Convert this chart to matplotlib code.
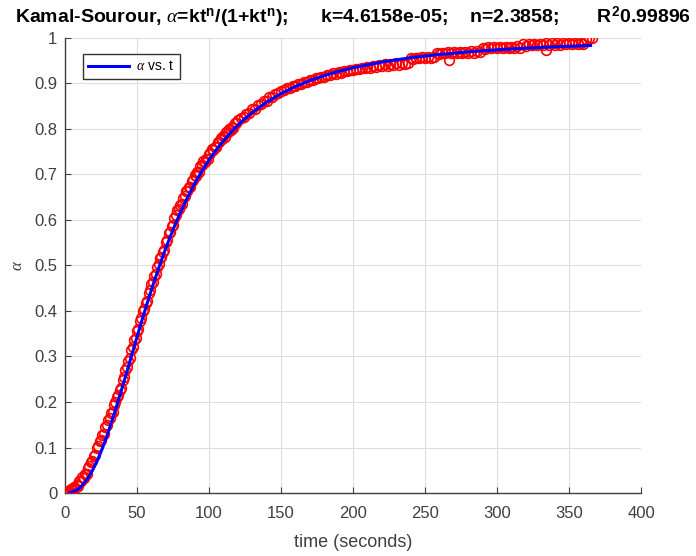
import matplotlib
matplotlib.use('Agg')
import matplotlib.pyplot as plt

plt.rcParams['font.family'] = ['Liberation Sans', 'DejaVu Sans']
plt.rcParams['mathtext.fontset'] = 'custom'
plt.rcParams['mathtext.rm'] = 'Liberation Sans:bold'
plt.rcParams['mathtext.bf'] = 'Liberation Sans:bold'
plt.rcParams['mathtext.it'] = 'Liberation Serif:italic'

# measured conversion (red circles): 1 s steps up to 120 s, 2 s steps after
t_data = list(range(0, 121)) + list(range(122, 367, 2)) + [267, 334]
a_data = [
    0.000, 0.000, 0.004, 0.000, 0.009, 0.008, 0.014, 0.011, 0.017, 0.015,
    0.026, 0.027, 0.035, 0.034, 0.042, 0.042, 0.056, 0.059, 0.069, 0.070,
    0.081, 0.083, 0.098, 0.103, 0.115, 0.117, 0.127, 0.130, 0.145, 0.150,
    0.161, 0.164, 0.175, 0.178, 0.194, 0.200, 0.212, 0.215, 0.227, 0.231,
    0.248, 0.256, 0.271, 0.276, 0.290, 0.296, 0.314, 0.321, 0.336, 0.341,
    0.355, 0.360, 0.378, 0.385, 0.400, 0.404, 0.417, 0.423, 0.439, 0.446,
    0.460, 0.464, 0.476, 0.481, 0.497, 0.503, 0.516, 0.519, 0.530, 0.534,
    0.551, 0.557, 0.571, 0.574, 0.586, 0.590, 0.605, 0.611, 0.623, 0.624,
    0.634, 0.636, 0.649, 0.652, 0.663, 0.663, 0.672, 0.673, 0.685, 0.688,
    0.698, 0.697, 0.705, 0.706, 0.718, 0.720, 0.729, 0.727, 0.735, 0.735,
    0.746, 0.748, 0.756, 0.754, 0.761, 0.760, 0.771, 0.772, 0.780, 0.778,
    0.784, 0.783, 0.793, 0.794, 0.801, 0.798, 0.805, 0.803, 0.813, 0.813,
    0.820,
    # 122 .. 220
    0.824, 0.826, 0.834, 0.835, 0.844, 0.845, 0.853, 0.854, 0.862, 0.862,
    0.870, 0.871, 0.877, 0.878, 0.884, 0.886, 0.889, 0.890, 0.895, 0.894,
    0.898, 0.899, 0.904, 0.904, 0.908, 0.907, 0.912, 0.911, 0.915, 0.914,
    0.919, 0.918, 0.922, 0.921, 0.925, 0.924, 0.928, 0.927, 0.930, 0.929,
    0.932, 0.931, 0.935, 0.934, 0.937, 0.935, 0.939, 0.937, 0.940, 0.938,
    # 222 .. 238
    0.942, 0.939, 0.943, 0.940, 0.944, 0.941, 0.945, 0.942, 0.945,
    # 240 .. 256
    0.957, 0.954, 0.957, 0.955, 0.958, 0.955, 0.959, 0.956, 0.959,
    # 258 .. 288
    0.967, 0.965, 0.968, 0.966, 0.969, 0.966, 0.969, 0.967, 0.970, 0.967,
    0.970, 0.968, 0.971, 0.968, 0.971, 0.969,
    # 290 .. 316
    0.979, 0.976, 0.980, 0.977, 0.980, 0.977, 0.981, 0.978, 0.981, 0.978,
    0.981, 0.979, 0.982, 0.979,
    # 318 .. 360
    0.986, 0.983, 0.987, 0.984, 0.987, 0.984, 0.987, 0.984, 0.988, 0.985,
    0.988, 0.985, 0.988, 0.985, 0.988, 0.986, 0.989, 0.986, 0.989, 0.986,
    0.989, 0.987,
    # 362 .. 366
    0.997, 0.999, 1.000,
    # outliers at 267 s and 334 s
    0.951, 0.974]

# Kamal-Sourour fit (blue line)
t_fit = [3, 5, 7.5, 10, 12.5, 15, 17.5, 20, 22.5, 25, 27.5, 30, 35, 40, 45, 50, 55,
         60, 65, 70, 75, 80, 85, 90, 95, 100, 105, 110, 115, 120, 125, 130, 140, 150,
         160, 170, 180, 190, 200, 220, 240, 260, 280, 300, 320, 340, 365]
a_fit = [0.0006, 0.0021, 0.0056, 0.0111, 0.0188, 0.0287, 0.0409, 0.0554, 0.0721,
         0.0908, 0.1114, 0.1337, 0.1823, 0.2346, 0.2888, 0.3430, 0.3959, 0.4464,
         0.4940, 0.5381, 0.5786, 0.6157, 0.6493, 0.6797, 0.7071, 0.7318, 0.7540,
         0.7740, 0.7920, 0.8082, 0.8229, 0.8361, 0.8589, 0.8777, 0.8933, 0.9063,
         0.9173, 0.9266, 0.9345, 0.9471, 0.9566, 0.9638, 0.9695, 0.9740, 0.9777,
         0.9806, 0.9836]

xticks = [0, 50, 100, 150, 200, 250, 300, 350, 400]
yticks = [0, 0.1, 0.2, 0.3, 0.4, 0.5, 0.6, 0.7, 0.8, 0.9, 1]
ytick_labels = ['0', '0.1', '0.2', '0.3', '0.4', '0.5', '0.6', '0.7', '0.8', '0.9', '1']

fig = plt.figure(figsize=(6.96, 5.56), dpi=100)
ax = fig.add_axes([0.0934, 0.1133, 0.8276, 0.8184])

ax.plot(t_data, a_data, 'o', color='red', mfc='none', ms=7, mew=1.2, zorder=3)
ax.plot(t_fit, a_fit, '-', color='blue', lw=2.2, zorder=4, label=r'$\alpha$ vs. t')

ax.set_xlim(0, 400)
ax.set_ylim(0, 1)
ax.set_xticks(xticks)
ax.set_yticks(yticks)
ax.set_yticklabels(ytick_labels)
ax.grid(True, color='#dedede', lw=0.8)
ax.set_axisbelow(True)
ax.tick_params(direction='in', length=4, colors='#404040', labelsize=12,
               labelcolor='#404040')
ax.tick_params(axis='x', pad=9.5)
ax.tick_params(axis='y', pad=5.5)
for s in ['top', 'right']:
    ax.spines[s].set_visible(False)
for s in ['left', 'bottom']:
    ax.spines[s].set_color('#404040')
    ax.spines[s].set_linewidth(1.0)

ax.set_xlabel('time (seconds)', fontsize=13, color='#404040', labelpad=9)
ax.set_ylabel(r'$\alpha$', fontsize=12, color='#404040')
ax.yaxis.set_label_coords(-0.07, 0.5)

ax.set_title(r'Kamal-Sourour, $\alpha$=kt$^{\rm n}$/(1+kt$^{\rm n}$);      k=4.6158e-05;    '
             r'n=2.3858;       R$^{\rm 2}$0.99896', fontsize=14, fontweight='bold', pad=10.5)

leg = ax.legend(loc='upper left', bbox_to_anchor=(0.031, 0.965), borderaxespad=0,
                fontsize=10, handlelength=2.9, handletextpad=0.5, frameon=True,
                fancybox=False, edgecolor='#333333', framealpha=1)
leg.get_frame().set_linewidth(1.0)

fig.savefig('out.png', dpi=100)
